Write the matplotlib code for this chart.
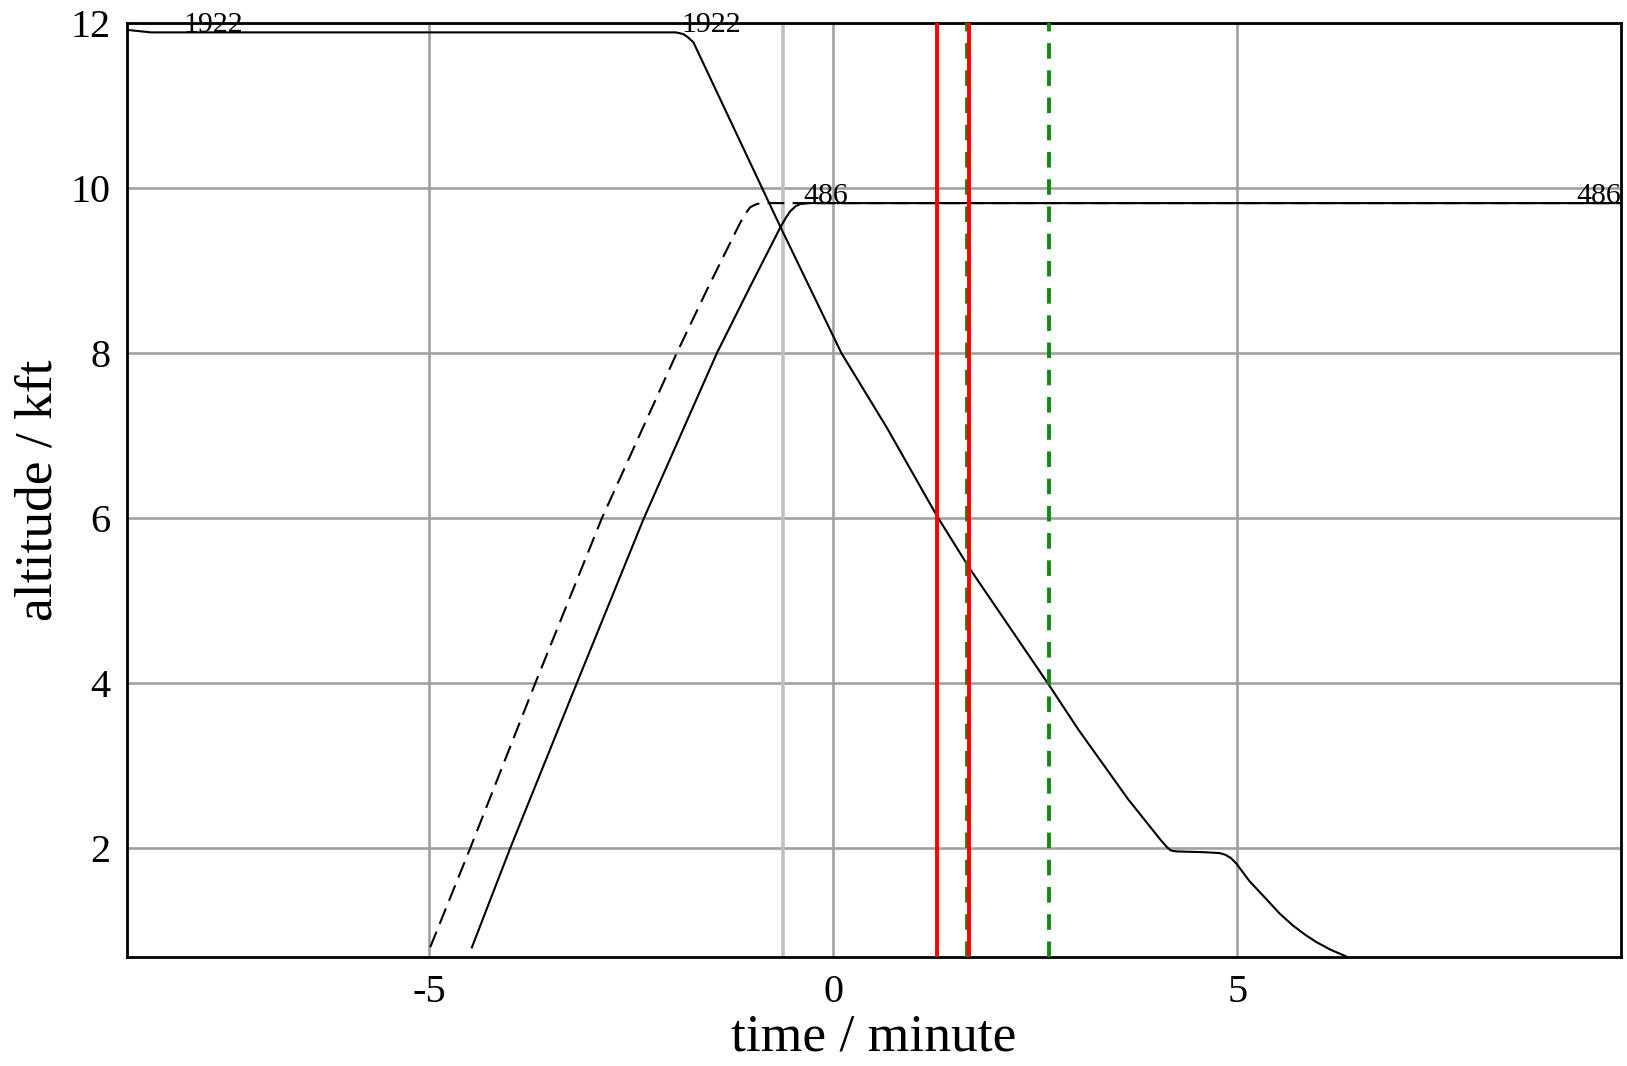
#!/usr/bin/env python
# -*- coding: utf-8 -*-
"""Altitude profiles of two aircraft around a conflict time
"""

import matplotlib
matplotlib.use("Agg")
import matplotlib.pyplot as plt

plt.rcParams['font.family'] = ['Liberation Serif', 'DejaVu Serif']
plt.rcParams['axes.unicode_minus'] = False

# descending flight 1922 (solid)
t_1922 = [-8.74, -8.45, -2.2, -1.95, -1.86, -1.80, -1.733, -0.66, 0.1, 0.66,
          1.28, 1.68, 2.66, 3.03, 3.65, 4.05, 4.13, 4.18, 4.25, 4.6, 4.78,
          4.85, 4.92, 4.99, 5.15, 5.36, 5.52, 5.69, 5.84, 5.98, 6.15, 6.34]
alt_1922 = [11.92, 11.89, 11.89, 11.89, 11.87, 11.83, 11.77, 9.54, 8.0, 7.1,
            6.03, 5.40, 3.99, 3.44, 2.59, 2.10, 2.01, 1.97, 1.96, 1.95, 1.94,
            1.92, 1.88, 1.81, 1.60, 1.38, 1.21, 1.06, 0.95, 0.86, 0.77, 0.69]

# climbing flight 486 (solid)
t_486 = [-4.475, -4.0, -3.176, -2.35, -1.443, -1.05, -0.66, -0.59, -0.536,
         -0.47, -0.41, -0.3, 9.745]
alt_486 = [0.796, 2.0, 4.0, 5.99, 8.0, 8.77, 9.52, 9.64, 9.72, 9.78, 9.81,
           9.82, 9.82]

# climbing flight 486, planned (dashed)
t_486_plan = [-4.99, -4.495, -3.69, -2.87, -1.94, -1.55, -1.155, -1.09, -1.03,
              -0.97, -0.907, -0.8, 9.745]
alt_486_plan = [0.80, 2.0, 4.0, 5.99, 8.0, 8.8, 9.58, 9.69, 9.77, 9.80, 9.82,
                9.82, 9.82]

# flight labels: (time, altitude, text, alignment)
labels = [(-8.05, 11.89, '1922', 'left'), (-1.88, 11.89, '1922', 'left'),
          (-0.37, 9.82, '486', 'left'), (9.745, 9.82, '486', 'right')]

# markers on the time axis
now_line = -0.63
red_lines = [1.287, 1.68]
green_lines = [1.651, 2.666]


def main():
    fig = plt.figure(figsize=(16.27, 10.66), dpi=100)
    ax = fig.add_axes([0.07824, 0.10225, 0.91789, 0.87589])

    # grid
    for x in [-5, 0, 5]:
        ax.axvline(x, color='#a0a0a0', lw=1.9, zorder=1)
    for y in [2, 4, 6, 8, 10, 12]:
        ax.axhline(y, color='#a0a0a0', lw=1.9, zorder=1)
    ax.axvline(now_line, color='#c0c0c0', lw=2.6, zorder=1)

    # tracks
    ax.plot(t_486_plan, alt_486_plan, c='k', lw=1.5, ls=(0, (8, 4)), zorder=3)
    ax.plot(t_486, alt_486, c='k', lw=1.5, zorder=3)
    ax.plot(t_1922, alt_1922, c='k', lw=1.5, zorder=3)

    # time markers
    for x in green_lines:
        ax.axvline(x, color='#108a10', lw=2.8, ls=(0, (4, 3)), zorder=4)
    for x in red_lines:
        ax.axvline(x, color='#ff0000', lw=2.8, zorder=5)

    for x, y, s, ha in labels:
        ax.text(x, y, s, ha=ha, va='baseline', fontsize=21.5, zorder=6)

    ax.set_xlim(-8.74, 9.745)
    ax.set_ylim(0.68, 12)
    ax.set_xticks([-5, 0, 5])
    ax.set_yticks([2, 4, 6, 8, 10, 12])
    ax.tick_params(length=0, labelsize=29, pad=12)
    ax.tick_params(axis='x', pad=12.5)
    for sp in ax.spines.values():
        sp.set_linewidth(2)
    ax.set_xlabel('time / minute', fontsize=38.5, va='baseline')
    ax.xaxis.set_label_coords(0.5, -0.1)
    ax.set_ylabel('altitude / kft', fontsize=38.5, labelpad=6)

    fig.savefig('out.png', dpi=100)


if __name__ == "__main__":
    main()
